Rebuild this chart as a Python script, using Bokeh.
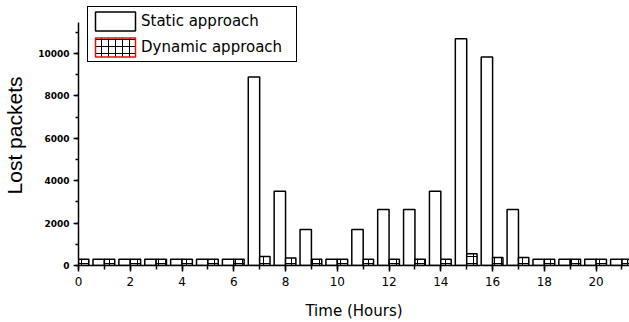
from bokeh.plotting import figure
from bokeh.models import (ColumnDataSource, Legend, LegendItem, SingleIntervalTicker, Range1d)
from bokeh.embed import file_html
from bokeh.resources import INLINE

# ---- data ----
hours = list(range(0, 22))
static_lost = [300, 300, 300, 300, 300, 300, 300, 8900, 3500, 1700, 300, 1700,
               2640, 2640, 3500, 10700, 9840, 2640, 300, 300, 300, 300]
dynamic_lost = [300, 300, 300, 300, 300, 300, 300, 420, 350, 300, 300, 300,
                300, 300, 300, 550, 380, 380, 300, 300, 300, 300]
series_names = ["Static approach", "Dynamic approach"]
x_ticks_step = 2
y_ticks_step = 2000

STATIC_OFF = -0.22
DYN_OFF = 0.20

src = ColumnDataSource(dict(
    xs=[h + STATIC_OFF for h in hours],
    xd=[h + DYN_OFF for h in hours],
    st=static_lost,
    dy=dynamic_lost,
))

p = figure(width=629, height=322, output_backend="svg", toolbar_location=None,
           x_range=Range1d(0, 21.29), y_range=Range1d(0, 12270),
           min_border_left=78, min_border_right=0, min_border_top=5, min_border_bottom=56)
p.outline_line_color = None
p.xgrid.visible = False
p.ygrid.visible = False
p.background_fill_color = "white"
p.border_fill_color = "white"

r_static = p.vbar(x="xs", top="st", width=0.44, bottom=0, source=src,
                  fill_color="white", line_color="black", line_width=1.5)
r_dyn = p.vbar(x="xd", top="dy", width=0.40, bottom=0, source=src,
               fill_color="white", line_color="black", line_width=1.5,
               hatch_pattern="+", hatch_color="black", hatch_scale=7, hatch_weight=1)
# legend-only swatch for the dynamic series (single bar placed off-screen)
r_dyn_leg = p.vbar(x=[-10], top=[1], width=0.4, fill_color="white", line_color="#e01010",
                   line_width=1.5, hatch_pattern="+", hatch_color="black",
                   hatch_scale=7, hatch_weight=1)

# axes
xa = p.xaxis[0]
xa.ticker = SingleIntervalTicker(interval=x_ticks_step, num_minor_ticks=2)
xa.axis_label = "Time (Hours)"
xa.axis_label_text_font = "DejaVu Sans"
xa.axis_label_text_font_size = "15px"
xa.axis_label_text_font_style = "normal"
xa.axis_label_text_color = "black"
xa.axis_label_standoff = 13
xa.major_label_text_font = "DejaVu Sans"
xa.major_label_text_font_size = "12px"
xa.major_label_text_color = "black"
xa.major_label_standoff = 5
xa.major_tick_in = 0
xa.major_tick_out = 6
xa.minor_tick_in = 0
xa.minor_tick_out = 4
xa.axis_line_width = 1.5
xa.major_tick_line_width = 1.5
xa.minor_tick_line_width = 1.5

ya = p.yaxis[0]
ya.ticker = SingleIntervalTicker(interval=y_ticks_step, num_minor_ticks=2)
ya.bounds = (0, 11455)
ya.axis_label = "Lost packets"
ya.axis_label_text_font = "Liberation Sans"
ya.axis_label_text_font_size = "21px"
ya.axis_label_text_font_style = "normal"
ya.axis_label_text_color = "black"
ya.axis_label_standoff = 9
ya.major_label_text_font = "DejaVu Sans"
ya.major_label_text_font_size = "9px"
ya.major_label_text_font_style = "bold"
ya.major_label_text_color = "black"
ya.major_label_standoff = 4
ya.major_tick_in = 0
ya.major_tick_out = 5
ya.minor_tick_in = 0
ya.minor_tick_out = 3
ya.axis_line_width = 1.5
ya.major_tick_line_width = 1.5
ya.minor_tick_line_width = 1.5

legend = Legend(items=[LegendItem(label=series_names[0], renderers=[r_static]),
                       LegendItem(label=series_names[1], renderers=[r_dyn_leg])],
                location=(9, 203), margin=0, padding=2, spacing=2,
                glyph_width=50, glyph_height=24, label_height=24, label_width=153,
                label_standoff=1, label_text_font="DejaVu Sans",
                label_text_font_size="15px", label_text_baseline="middle",
                label_text_color="black",
                border_line_color="black", border_line_width=1.5, border_line_alpha=1.0,
                background_fill_color="white", background_fill_alpha=1.0)
p.add_layout(legend)

open("out.html", "w").write(file_html(p, INLINE))
